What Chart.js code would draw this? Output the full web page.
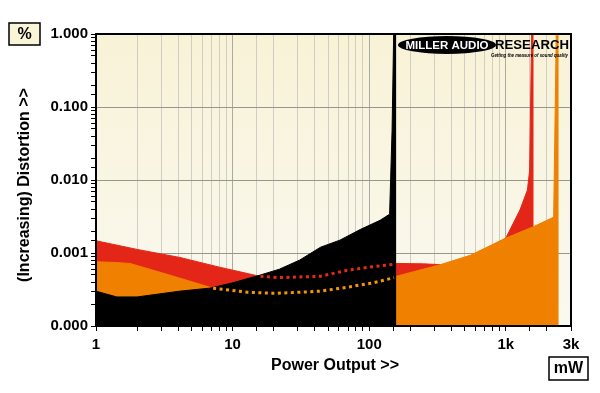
<!DOCTYPE html>
<html><head><meta charset="utf-8">
<script src="https://cdn.jsdelivr.net/npm/chart.js@4"></script>
<style>html,body{margin:0;padding:0;background:#fff;}#wrap{width:600px;height:393px;}</style>
</head><body><div id="wrap"><canvas id="c" width="600" height="393"></canvas></div>
<script>
// ---- data (x in mW, y in %) ----
const xTickValues = [1, 10, 100, 1000, 3000];
const xTickLabels = ['1', '10', '100', '1k', '3k'];
const yTickValues = [0.0001, 0.001, 0.01, 0.1, 1];
const yTickLabels = ['0.000', '0.001', '0.010', '0.100', '1.000'];

const redX = [1, 2, 4.1, 8, 15, 22, 44, 69, 107, 147, 156, 250, 350, 500, 700, 1000, 1270, 1440, 1494, 1545, 1600];
const redY = [0.00147, 0.00112, 0.00087, 0.00064, 0.00049, 0.00046, 0.00048, 0.00058, 0.00065, 0.00069, 0.00072, 0.00071, 0.00069, 0.00082, 0.0011, 0.0016, 0.0039, 0.0073, 0.0137, 1.0, 1.0];

const orangeX = [1, 1.4, 1.77, 3.1, 4.9, 6.8, 7.7, 12.8, 20, 31, 44, 69, 107, 150, 158, 330, 550, 1000, 1600, 2240, 2340, 2440];
const orangeY = [0.00076, 0.00074, 0.00072, 0.00053, 0.00041, 0.00034, 0.00032, 0.00029, 0.00028, 0.00029, 0.0003, 0.00034, 0.00039, 0.00046, 0.00048, 0.00069, 0.00093, 0.0016, 0.0023, 0.0031, 1.0, 1.0];

const blackX = [1, 1.42, 2, 4.1, 6.8, 10, 16, 22, 31, 44, 61, 86, 120, 141, 147, 151, 158];
const blackY = [0.0003, 0.00025, 0.00025, 0.0003, 0.00033, 0.00039, 0.0005, 0.0006, 0.0008, 0.0012, 0.0015, 0.0021, 0.0028, 0.0034, 0.048, 1.0, 1.0];

const redDotX = [16, 22, 44, 69, 107, 152];
const redDotY = [0.00048, 0.00046, 0.00048, 0.00058, 0.00065, 0.0007];
const orangeDotX = [7.2, 12.8, 20, 31, 44, 69, 107, 152];
const orangeDotY = [0.00033, 0.00029, 0.00028, 0.00029, 0.0003, 0.00034, 0.00039, 0.00046];

const pts = (xs, ys) => xs.map((x, i) => ({ x: x, y: ys[i] }));
const RED = 'rgb(228,38,24)', ORANGE = 'rgb(240,128,0)', BLACK = '#000';
const FONT = 'Liberation Sans, Arial, sans-serif';

function isDecade(v) { const l = Math.log10(v); return Math.abs(l - Math.round(l)) < 1e-6; }
function labelFor(vals, labels, v) {
  for (let i = 0; i < vals.length; i++) if (Math.abs(vals[i] - v) / vals[i] < 1e-6) return labels[i];
  return '';
}

const bgPlugin = {
  id: 'bg',
  beforeDraw(chart) {
    const { ctx, chartArea: a } = chart;
    const g = ctx.createLinearGradient(0, a.top, 0, a.bottom);
    g.addColorStop(0, 'rgb(248,242,214)');
    g.addColorStop(1, 'rgb(250,249,241)');
    ctx.save(); ctx.fillStyle = g; ctx.fillRect(a.left, a.top, a.right - a.left, a.bottom - a.top); ctx.restore();
  }
};

const overlayPlugin = {
  id: 'overlay',
  afterDatasetsDraw(chart) {
    const { ctx, chartArea: a } = chart;
    ctx.save();
    // frame
    ctx.strokeStyle = '#000'; ctx.lineWidth = 2;
    ctx.strokeRect(a.left, a.top, a.right - a.left, a.bottom - a.top);
    // logo
    ctx.fillStyle = '#000';
    ctx.beginPath(); ctx.ellipse(447, 45, 49, 9, 0, 0, Math.PI * 2); ctx.fill();
    ctx.fillStyle = '#fff';
    ctx.font = 'bold 11.5px ' + FONT; ctx.textAlign = 'center'; ctx.textBaseline = 'middle';
    ctx.fillText('MILLER AUDIO', 447, 45.5, 84);
    ctx.fillStyle = '#000'; ctx.textAlign = 'left';
    ctx.font = 'bold 13.5px ' + FONT;
    ctx.fillText('RESEARCH', 495, 45.5, 74);
    ctx.font = 'italic bold 6px ' + FONT;
    ctx.fillText('Getting the measure of sound quality', 491, 55.5, 77);
    ctx.restore();
  },
  afterDraw(chart) {
    const ctx = chart.ctx;
    ctx.save();
    ctx.textAlign = 'center'; ctx.textBaseline = 'middle'; ctx.fillStyle = '#000';
    // % box
    ctx.fillStyle = 'rgb(250,245,215)'; ctx.fillRect(9, 23, 31, 22);
    ctx.strokeStyle = '#000'; ctx.lineWidth = 1.5; ctx.strokeRect(9, 23, 31, 22);
    ctx.fillStyle = '#000'; ctx.font = 'bold 16px ' + FONT;
    ctx.fillText('%', 24.5, 34.5);
    // mW box
    ctx.fillStyle = '#fff'; ctx.fillRect(549, 357, 39, 23);
    ctx.strokeRect(549, 357, 39, 23);
    ctx.fillStyle = '#000'; ctx.fillText('mW', 568.5, 369);
    // axis titles
    ctx.fillText('Power Output >>', 335, 366);
    ctx.translate(25, 185); ctx.rotate(-Math.PI / 2);
    ctx.fillText('(Increasing) Distortion >>', 0, 0);
    ctx.restore();
  }
};

new Chart(document.getElementById('c'), {
  type: 'line',
  data: {
    datasets: [
      { data: pts(orangeDotX, orangeDotY), borderColor: 'rgb(246,150,0)', borderWidth: 3, borderDash: [3, 3.5], fill: false, order: 1 },
      { data: pts(redDotX, redDotY), borderColor: 'rgb(232,40,24)', borderWidth: 3, borderDash: [3, 3.5], fill: false, order: 2 },
      { data: pts(blackX, blackY), borderColor: BLACK, backgroundColor: BLACK, borderWidth: 1, fill: 'start', order: 3 },
      { data: pts(orangeX, orangeY), borderColor: ORANGE, backgroundColor: ORANGE, borderWidth: 1, fill: 'start', order: 4 },
      { data: pts(redX, redY), borderColor: RED, backgroundColor: RED, borderWidth: 1, fill: 'start', order: 5 }
    ]
  },
  options: {
    responsive: false, animation: false, devicePixelRatio: 1,
    parsing: true,
    elements: { point: { radius: 0, hoverRadius: 0 }, line: { tension: 0, capBezierPoints: false } },
    layout: { padding: { left: 0, top: 34, right: 29, bottom: 0 } },
    plugins: { legend: { display: false }, tooltip: { enabled: false } },
    events: [],
    scales: {
      x: {
        type: 'logarithmic', min: 1, max: 3000, position: 'bottom',
        afterFit: s => { s.height = 67; },
        ticks: {
          autoSkip: false, maxRotation: 0, minRotation: 0, padding: 5, color: '#000',
          font: { family: FONT, weight: 'bold', size: 15 },
          callback: v => labelFor(xTickValues, xTickLabels, v)
        },
        grid: {
          color: c => (c.tick && isDecade(c.tick.value)) ? 'rgb(170,170,164)' : 'rgb(208,206,196)',
          lineWidth: 1, tickLength: 5, tickColor: '#000', tickWidth: 1
        },
        border: { display: true, color: '#000', width: 2 }
      },
      y: {
        type: 'logarithmic', min: 0.0001, max: 1, position: 'left',
        afterFit: s => { s.width = 96; },
        ticks: {
          autoSkip: false, padding: 3, color: '#000',
          font: { family: FONT, weight: 'bold', size: 15 },
          callback: v => labelFor(yTickValues, yTickLabels, v)
        },
        grid: {
          color: c => (c.tick && isDecade(c.tick.value)) ? 'rgb(150,150,145)' : 'rgba(0,0,0,0)',
          lineWidth: 1, tickLength: 5, tickColor: '#000', tickWidth: 1
        },
        border: { display: true, color: '#000', width: 2 }
      }
    }
  },
  plugins: [bgPlugin, overlayPlugin]
});
</script>
</body></html>
